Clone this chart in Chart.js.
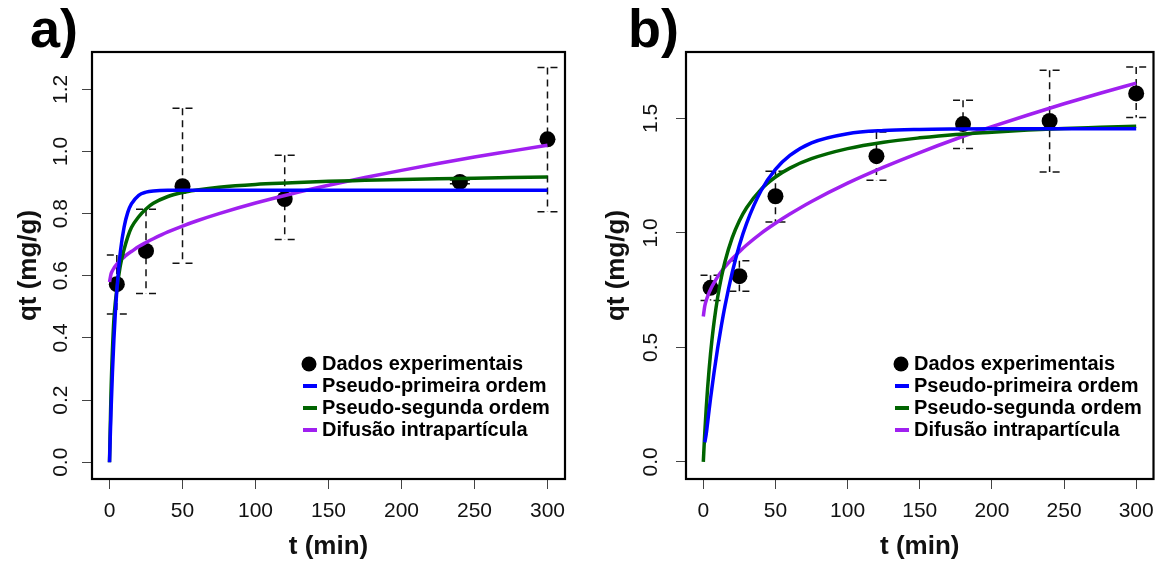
<!DOCTYPE html>
<html lang="pt-br">
  <head>
    <meta charset="UTF-8" />
    <title>Cinética de adsorção</title>
    <script src="https://cdn.jsdelivr.net/npm/chart.js"></script>
    <style>
      body {
        margin: 0;
        background: #fff;
      }
      .painel {
        position: absolute;
        top: 0;
      }
      #painelA {
        left: 0;
      }
      #painelB {
        left: 582px;
      }
    </style>
  </head>
  <body>
    <canvas id="painelA" class="painel" width="582" height="562"></canvas>
    <canvas id="painelB" class="painel" width="582" height="562"></canvas>

    <script>
      // pontos experimentais (t em min, qt em mg/g) com barras de erro
      const tempoExp_a = [5, 25, 50, 120, 240, 300];
      const qt_a = [0.573, 0.68, 0.888, 0.847, 0.902, 1.039];
      const qtMin_a = [0.477, 0.543, 0.64, 0.717, 0.896, 0.806];
      const qtMax_a = [0.667, 0.814, 1.139, 0.988, 0.908, 1.27];

      const tempoExp_b = [5, 25, 50, 120, 180, 240, 300];
      const qt_b = [0.76, 0.811, 1.16, 1.335, 1.475, 1.489, 1.609];
      const qtMin_b = [0.705, 0.745, 1.048, 1.23, 1.369, 1.266, 1.504];
      const qtMax_b = [0.815, 0.878, 1.269, 1.441, 1.579, 1.71, 1.725];

      // curvas dos modelos
      const tempoCurva = [0, 1, 2, 3, 4, 5, 6, 7.5, 10, 12.5, 15, 20, 25, 30, 40, 50, 60, 75, 100, 125, 150, 175, 200, 225, 250, 275, 300];

      const pfo_a = [0, 0.159, 0.288, 0.395, 0.482, 0.553, 0.611, 0.68, 0.757, 0.804, 0.831, 0.859, 0.869, 0.873, 0.875, 0.875, 0.875, 0.875, 0.875, 0.875, 0.875, 0.875, 0.875, 0.875, 0.875, 0.875, 0.875];
      const pso_a = [0, 0.22, 0.36, 0.46, 0.515, 0.555, 0.59, 0.635, 0.685, 0.725, 0.755, 0.79, 0.815, 0.833, 0.855, 0.868, 0.876, 0.885, 0.894, 0.899, 0.904, 0.907, 0.91, 0.912, 0.914, 0.916, 0.918];
      const dif_a = [0.58, 0.605, 0.616, 0.624, 0.631, 0.637, 0.642, 0.65, 0.66, 0.67, 0.678, 0.694, 0.707, 0.719, 0.741, 0.76, 0.777, 0.8, 0.834, 0.864, 0.891, 0.916, 0.939, 0.961, 0.982, 1.001, 1.02];

      const pfo_b = [null, 0.085, 0.12, 0.172, 0.225, 0.276, 0.324, 0.393, 0.499, 0.594, 0.68, 0.826, 0.946, 1.042, 1.184, 1.277, 1.338, 1.393, 1.433, 1.447, 1.452, 1.454, 1.455, 1.455, 1.455, 1.455, 1.455];
      const pso_b = [0, 0.126, 0.232, 0.324, 0.403, 0.472, 0.533, 0.613, 0.721, 0.805, 0.874, 0.978, 1.053, 1.11, 1.19, 1.244, 1.283, 1.324, 1.368, 1.396, 1.415, 1.43, 1.44, 1.449, 1.456, 1.461, 1.466];
      const dif_b = [0.635, 0.68, 0.705, 0.723, 0.739, 0.753, 0.766, 0.783, 0.809, 0.831, 0.851, 0.887, 0.918, 0.947, 0.998, 1.042, 1.082, 1.137, 1.217, 1.287, 1.351, 1.41, 1.464, 1.515, 1.564, 1.61, 1.654];

      const ticksX = [0, 50, 100, 150, 200, 250, 300];
      const ticksY_a = [0, 0.2, 0.4, 0.6, 0.8, 1.0, 1.2];
      const ticksY_b = [0, 0.5, 1.0, 1.5];

      const legendas = ["Dados experimentais", "Pseudo-primeira ordem", "Pseudo-segunda ordem", "Difusão intrapartícula"];
      const cores = ["#000000", "#0000ff", "#006400", "#a020f0"];

      const fonte = "'Liberation Sans', Arial, sans-serif";

      function pares(xs, ys) {
        return xs.map((x, i) => ({ x: x, y: ys[i] }));
      }

      // barras de erro, moldura, legenda e rótulo do painel
      const decoracao = {
        id: "decoracao",
        beforeDatasetsDraw(chart, args, op) {
          const ctx = chart.ctx;
          const sx = chart.scales.x;
          const sy = chart.scales.y;
          ctx.save();
          ctx.strokeStyle = "#111";
          ctx.lineWidth = 1.5;
          op.tempo.forEach((t, i) => {
            const x = sx.getPixelForValue(t);
            const y0 = sy.getPixelForValue(op.min[i]);
            const y1 = sy.getPixelForValue(op.max[i]);
            ctx.setLineDash([7, 5]);
            ctx.beginPath();
            ctx.moveTo(x, y1);
            ctx.lineTo(x, y0);
            ctx.stroke();
            ctx.setLineDash([7, 6]);
            [y0, y1].forEach((y) => {
              ctx.beginPath();
              ctx.moveTo(x - 10, y);
              ctx.lineTo(x + 10, y);
              ctx.stroke();
            });
          });
          ctx.restore();
        },
        afterDatasetsDraw(chart) {
          const a = chart.chartArea;
          const ctx = chart.ctx;
          ctx.save();
          ctx.strokeStyle = "#000";
          ctx.lineWidth = 2.2;
          ctx.strokeRect(a.left, a.top, a.right - a.left, a.bottom - a.top);
          ctx.restore();
        },
        afterDraw(chart, args, op) {
          const ctx = chart.ctx;
          ctx.save();
          ctx.fillStyle = "#000";
          ctx.font = "bold 54px " + fonte;
          ctx.textBaseline = "alphabetic";
          ctx.fillText(op.rotulo, op.rotuloX, 47);

          ctx.font = "bold 20px " + fonte;
          ctx.textBaseline = "middle";
          legendas.forEach((txt, i) => {
            const y = op.legY + i * 22;
            if (i === 0) {
              ctx.beginPath();
              ctx.arc(op.legX + 6, y, 7.5, 0, Math.PI * 2);
              ctx.fillStyle = cores[0];
              ctx.fill();
            } else {
              ctx.strokeStyle = cores[i];
              ctx.lineWidth = 4;
              ctx.beginPath();
              ctx.moveTo(op.legX, y);
              ctx.lineTo(op.legX + 14, y);
              ctx.stroke();
            }
            ctx.fillStyle = "#000";
            ctx.fillText(txt, op.legX + 19, y);
          });
          ctx.restore();
        },
      };

      function criarGrafico(id, dados, eixoY, extra) {
        const linha = (rotulo, ys, cor) => ({
          label: rotulo,
          data: pares(tempoCurva, ys),
          showLine: true,
          borderColor: cor,
          borderWidth: 3.5,
          pointRadius: 0,
          cubicInterpolationMode: "monotone",
          spanGaps: false,
        });

        return new Chart(document.getElementById(id), {
          type: "scatter",
          data: {
            datasets: [
              linha(legendas[1], dados.pfo, cores[1]),
              linha(legendas[2], dados.pso, cores[2]),
              linha(legendas[3], dados.dif, cores[3]),
              {
                label: legendas[0],
                data: pares(dados.tempo, dados.qt),
                backgroundColor: "#000",
                borderWidth: 0,
                pointRadius: 8,
              },
            ],
          },
          options: {
            responsive: false,
            animation: false,
            devicePixelRatio: 1,
            layout: {
              padding: { left: 0, top: 52, right: extra.dir, bottom: 0 },
            },
            scales: {
              x: {
                type: "linear",
                min: -12,
                max: 312,
                afterBuildTicks: (ax) => {
                  ax.ticks = ticksX.map((v) => ({ value: v }));
                },
                afterFit: (s) => {
                  s.height = 83;
                },
                grid: { drawOnChartArea: false, tickLength: 10, color: "#444" },
                border: { display: false },
                ticks: {
                  autoSkip: false,
                  maxRotation: 0,
                  padding: 10,
                  color: "#111",
                  font: { family: fonte, size: 21 },
                },
                title: {
                  display: true,
                  text: "t (min)",
                  color: "#111",
                  font: { family: fonte, size: 26, weight: "bold" },
                  padding: { top: 0, bottom: 0 },
                },
              },
              y: {
                type: "linear",
                min: eixoY.min,
                max: eixoY.max,
                afterBuildTicks: (ax) => {
                  ax.ticks = eixoY.ticks.map((v) => ({ value: v }));
                },
                afterFit: (s) => {
                  s.width = extra.esq;
                },
                grid: { drawOnChartArea: false, tickLength: 10, color: "#444" },
                border: { display: false },
                ticks: {
                  autoSkip: false,
                  minRotation: 90,
                  maxRotation: 90,
                  crossAlign: "center",
                  padding: extra.padY,
                  color: "#111",
                  font: { family: fonte, size: 21 },
                  callback: (v) => v.toFixed(1),
                },
                title: {
                  display: true,
                  text: "qt (mg/g)",
                  color: "#111",
                  font: { family: fonte, size: 26, weight: "bold" },
                  padding: { top: extra.padTitulo, bottom: 0 },
                },
              },
            },
            plugins: {
              legend: { display: false },
              tooltip: { enabled: false },
              decoracao: {
                tempo: dados.tempo,
                min: dados.min,
                max: dados.max,
                rotulo: extra.rotulo,
                rotuloX: extra.rotuloX,
                legX: extra.legX,
                legY: 364,
              },
            },
          },
          plugins: [decoracao],
        });
      }

      criarGrafico(
        "painelA",
        { tempo: tempoExp_a, qt: qt_a, min: qtMin_a, max: qtMax_a, pfo: pfo_a, pso: pso_a, dif: dif_a },
        { min: -0.054, max: 1.32, ticks: ticksY_a },
        { esq: 92, dir: 17, padY: 6, padTitulo: 13, rotulo: "a)", rotuloX: 30, legX: 303 }
      );

      criarGrafico(
        "painelB",
        { tempo: tempoExp_b, qt: qt_b, min: qtMin_b, max: qtMax_b, pfo: pfo_b, pso: pso_b, dif: dif_b },
        { min: -0.075, max: 1.79, ticks: ticksY_b },
        { esq: 104, dir: 6, padY: 10, padTitulo: 19, rotulo: "b)", rotuloX: 46, legX: 313 }
      );
    </script>
  </body>
</html>
